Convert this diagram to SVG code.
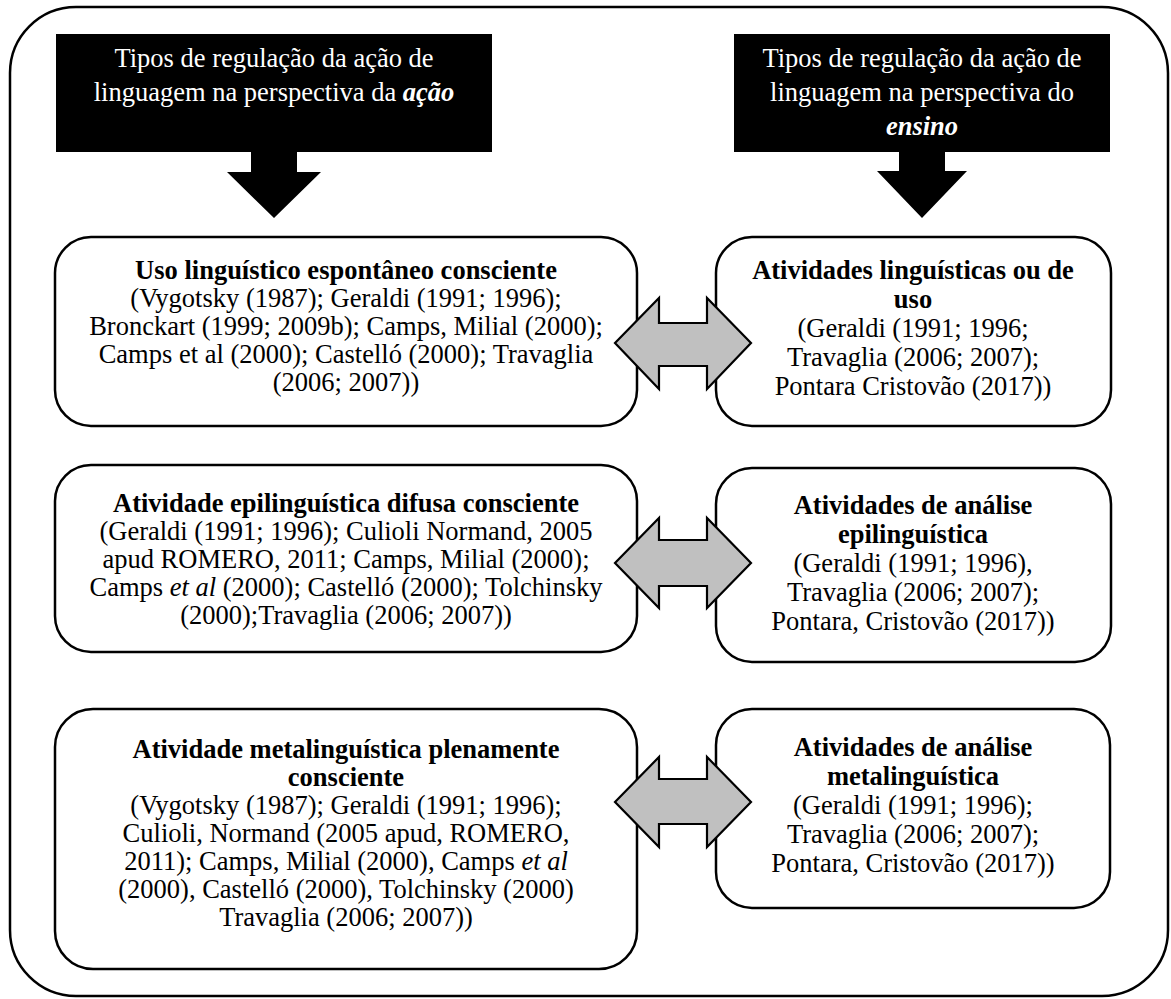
<svg xmlns="http://www.w3.org/2000/svg" width="1171" height="999" viewBox="0 0 1171 999">
<style>
.frame{fill:#fff;stroke:#000;stroke-width:2.5}
.box{fill:#fff;stroke:#000;stroke-width:2.5}
.hdr{fill:#000}
.ht{font-family:"Liberation Serif","Times New Roman",serif;font-size:26.5px;fill:#fff;text-anchor:middle}
.t{font-family:"Liberation Serif","Times New Roman",serif;font-size:26.5px;fill:#000;text-anchor:middle}
.b{font-weight:bold}
.i{font-style:italic}
.dbl{fill:#c0c0c0;stroke:#000;stroke-width:2.2;stroke-linejoin:miter}
</style>
<rect class="frame" x="10" y="7" width="1158" height="989" rx="66" ry="66"/>
<g id="header-acao">
<rect class="hdr" x="56" y="34" width="436" height="118"/>
<text class="ht" x="274" y="67">Tipos de regulação da ação de</text>
<text class="ht" x="274" y="101">linguagem na perspectiva da <tspan font-weight="bold" font-style="italic">ação</tspan></text>
</g>
<g id="header-ensino">
<rect class="hdr" x="734" y="34" width="376" height="118"/>
<text class="ht" x="922" y="67">Tipos de regulação da ação de</text>
<text class="ht" x="922" y="101">linguagem na perspectiva do</text>
<text class="ht" x="922" y="135" font-weight="bold" font-style="italic">ensino</text>
</g>
<g id="uso-linguistico">
<rect class="box" x="55" y="237" width="582" height="189" rx="36" ry="36"/>
<text class="t b" x="346" y="279">Uso linguístico espontâneo consciente</text>
<text class="t" x="346" y="307">(Vygotsky (1987); Geraldi (1991; 1996);</text>
<text class="t" x="346" y="335">Bronckart (1999; 2009b); Camps, Milial (2000);</text>
<text class="t" x="346" y="363">Camps et al (2000); Castelló (2000); Travaglia</text>
<text class="t" x="346" y="391">(2006; 2007))</text>
</g>
<g id="atividades-linguisticas">
<rect class="box" x="716" y="237" width="395" height="189" rx="36" ry="36"/>
<text class="t b" x="913" y="279">Atividades linguísticas ou de</text>
<text class="t b" x="913" y="308">uso</text>
<text class="t" x="913" y="337">(Geraldi (1991; 1996;</text>
<text class="t" x="913" y="366">Travaglia (2006; 2007);</text>
<text class="t" x="913" y="395">Pontara Cristovão (2017))</text>
</g>
<g id="epilinguistica-difusa">
<rect class="box" x="55" y="465" width="582" height="187" rx="36" ry="36"/>
<text class="t b" x="346" y="512">Atividade epilinguística difusa consciente</text>
<text class="t" x="346" y="540">(Geraldi (1991; 1996); Culioli Normand, 2005</text>
<text class="t" x="346" y="568">apud ROMERO, 2011; Camps, Milial (2000);</text>
<text class="t" x="346" y="596">Camps <tspan class="i">et al</tspan> (2000); Castelló (2000); Tolchinsky</text>
<text class="t" x="346" y="624">(2000);Travaglia (2006; 2007))</text>
</g>
<g id="analise-epilinguistica">
<rect class="box" x="716" y="468" width="395" height="194" rx="36" ry="36"/>
<text class="t b" x="913" y="514">Atividades de análise</text>
<text class="t b" x="913" y="543">epilinguística</text>
<text class="t" x="913" y="572">(Geraldi (1991; 1996),</text>
<text class="t" x="913" y="601">Travaglia (2006; 2007);</text>
<text class="t" x="913" y="630">Pontara, Cristovão (2017))</text>
</g>
<g id="metalinguistica-plena">
<rect class="box" x="55" y="709" width="582" height="260" rx="38" ry="38"/>
<text class="t b" x="346" y="758">Atividade metalinguística plenamente</text>
<text class="t b" x="346" y="786">consciente</text>
<text class="t" x="346" y="814">(Vygotsky (1987); Geraldi (1991; 1996);</text>
<text class="t" x="346" y="842">Culioli, Normand (2005 apud, ROMERO,</text>
<text class="t" x="346" y="870">2011); Camps, Milial (2000), Camps <tspan class="i">et al</tspan></text>
<text class="t" x="346" y="898">(2000), Castelló (2000), Tolchinsky (2000)</text>
<text class="t" x="346" y="926">Travaglia (2006; 2007))</text>
</g>
<g id="analise-metalinguistica">
<rect class="box" x="716" y="709" width="394" height="199" rx="36" ry="36"/>
<text class="t b" x="913" y="756">Atividades de análise</text>
<text class="t b" x="913" y="785">metalinguística</text>
<text class="t" x="913" y="814">(Geraldi (1991; 1996);</text>
<text class="t" x="913" y="843">Travaglia (2006; 2007);</text>
<text class="t" x="913" y="872">Pontara, Cristovão (2017))</text>
</g>
<g id="connectors">
<polygon class="hdr" points="251,152 297,152 297,172 321,172 274,218 227,172 251,172"/>
<polygon class="hdr" points="899,152 945,152 945,171 967,171 922,218 877,171 899,171"/>
<polygon class="dbl" points="615,343 659,298 659,323 707,323 707,298 751,343 707,389 707,366 659,366 659,389"/>
<polygon class="dbl" points="615,563 659,518 659,540 707,540 707,518 751,563 707,608 707,586 659,586 659,608"/>
<polygon class="dbl" points="615,802 659,757 659,779 707,779 707,757 751,802 707,847 707,824 659,824 659,847"/>
</g>
</svg>
